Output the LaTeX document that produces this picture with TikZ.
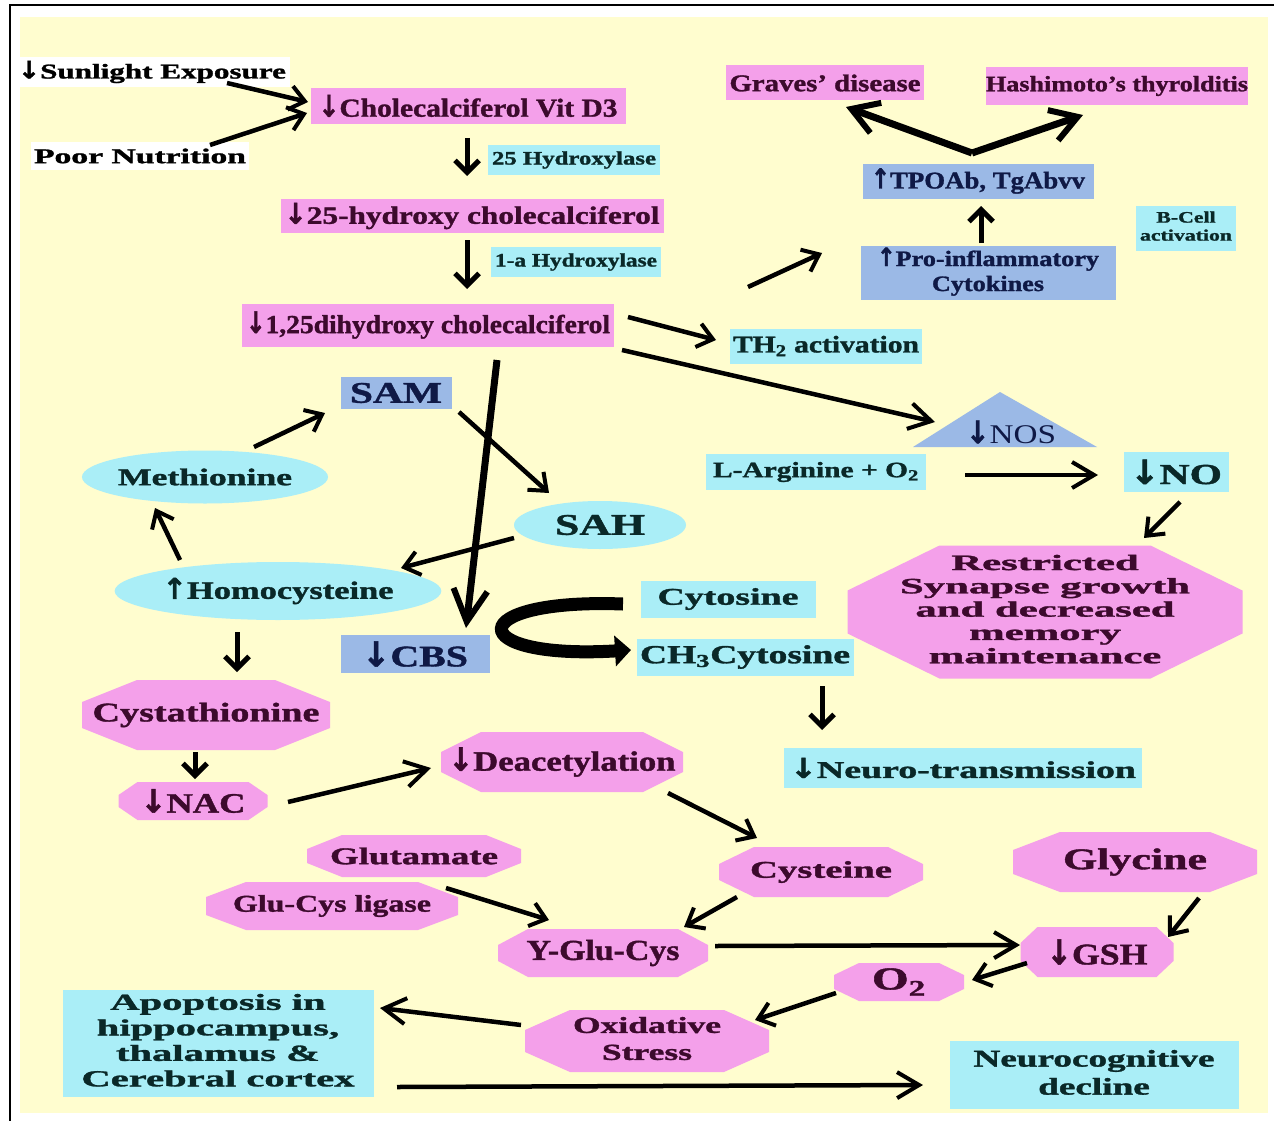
\documentclass[tikz,border=0pt]{standalone}
\usepackage{fontspec}
\usepackage{graphicx}
\setmainfont{Liberation Serif}[BoldFeatures={FakeBold=1.2}]
\newfontfamily\arrf{DejaVu Sans}[BoldFeatures={FakeBold=1.5}]
\usetikzlibrary{arrows.meta,shapes.geometric,calc}
\definecolor{bgy}{RGB}{255,253,207}
\definecolor{pinkf}{RGB}{244,160,234}
\definecolor{cyanf}{RGB}{170,238,247}
\definecolor{bluef}{RGB}{155,185,230}
\definecolor{pinkt}{RGB}{60,10,45}
\definecolor{cyant}{RGB}{10,40,40}
\definecolor{bluet}{RGB}{15,25,70}
\newcommand\dn{\scalebox{0.85}[1.15]{\arrf\bfseries ↓}}
\newcommand\up{\scalebox{0.85}[1.15]{\arrf\bfseries ↑}}
\newcommand\tx[3]{{\fontsize{#2}{#2}\selectfont\bfseries\resizebox{#1pt}{\height}{#3}}}
\newcommand\txr[3]{{\fontsize{#2}{#2}\selectfont\resizebox{#1pt}{\height}{#3}}}
\newcommand\txm[4]{{\fontsize{#2}{#3}\selectfont\bfseries\resizebox{#1pt}{\height}{\begin{tabular}{@{}c@{}}#4\end{tabular}}}}
\tikzset{
  pbox/.style={rectangle, fill=pinkf, text=pinkt, inner sep=0pt},
  cbox/.style={rectangle, fill=cyanf, text=cyant, inner sep=0pt},
  bbox/.style={rectangle, fill=bluef, text=bluet, inner sep=0pt},
  wbox/.style={rectangle, fill=white, text=black, inner sep=0pt},
  ell/.style={ellipse, fill=cyanf, text=cyant, inner sep=0pt},
  oct/.style 2 args={rectangle, inner sep=0pt, text=pinkt,
    path picture={\fill[pinkf]
      ([xshift=#1pt]path picture bounding box.north west) --
      ([xshift=-#1pt]path picture bounding box.north east) --
      ([yshift=-#2pt]path picture bounding box.north east) --
      ([yshift=#2pt]path picture bounding box.south east) --
      ([xshift=-#1pt]path picture bounding box.south east) --
      ([xshift=#1pt]path picture bounding box.south west) --
      ([yshift=#2pt]path picture bounding box.south west) --
      ([yshift=-#2pt]path picture bounding box.north west) -- cycle;}},
  arr/.style={line width=4.5pt, -{Straight Barb[length=15pt,width=24pt,line width=4pt]}},
  larr/.style={line width=4.5pt, -{Straight Barb[length=22pt,width=26pt,line width=4pt]}},
  varr/.style={line width=5pt, -{Straight Barb[length=12pt,width=24pt,line width=5pt]}},
  barr/.style={line width=7pt, -{Straight Barb[length=32pt,width=34pt,line width=6pt]}},
  vvarr/.style={line width=7pt, -{Straight Barb[length=26pt,width=32pt,line width=6pt]}},
}
\begin{document}
\begin{tikzpicture}[x=1pt,y=-1pt]
\useasboundingbox (0,0) rectangle (1274,1121);
\fill[white] (0,0) rectangle (1274,1121);
\fill[bgy] (20,17) rectangle (1268,1113);
\draw[line width=2.5pt] (1274,5) -- (10,5) -- (10,1121);

% top chain
\node[wbox, minimum width=275pt, minimum height=30pt] (sun) at (152,72) {\tx{268}{21}{\dn Sunlight Exposure}};
\node[wbox, minimum width=218pt, minimum height=28pt] (poor) at (140,156) {\tx{212}{21}{Poor Nutrition}};
\node[pbox, minimum width=315pt, minimum height=36pt] (chol) at (468,106) {\tx{299}{26}{\dn Cholecalciferol Vit D3}};
\node[cbox, minimum width=172pt, minimum height=30pt] (h25) at (574,160) {\tx{164}{19}{25 Hydroxylase}};
\node[pbox, minimum width=383pt, minimum height=34pt] (hyd25) at (472,216) {\tx{375}{25}{\dn 25-hydroxy cholecalciferol}};
\node[cbox, minimum width=170pt, minimum height=30pt] (ha1) at (576,262) {\tx{162}{19}{1-a Hydroxylase}};
\node[pbox, minimum width=372pt, minimum height=43pt] (dih) at (428,325) {\tx{364}{26}{\dn 1,25dihydroxy cholecalciferol}};

% thyroid
\node[cbox, minimum width=192pt, minimum height=35pt] (th2) at (826,346) {\tx{186}{24}{TH\textsubscript{2} activation}};
\node[pbox, minimum width=198pt, minimum height=35pt] (graves) at (825,83) {\tx{191}{24}{Graves’ disease}};
\node[pbox, minimum width=262pt, minimum height=38pt] (hashi) at (1117,86) {\tx{262}{22}{Hashimoto’s thyrolditis}};
\node[bbox, minimum width=231pt, minimum height=35pt] (tpo) at (978,181) {\tx{214}{24}{\up TPOAb, TgAbvv}};
\node[bbox, minimum width=255pt, minimum height=54pt] (proinf) at (988,273) {\txm{222}{22}{25}{\up Pro-inflammatory\\Cytokines}};
\node[cbox, minimum width=100pt, minimum height=45pt] (bcell) at (1186,228) {\txm{92}{16}{18}{B-Cell\\activation}};

% NOS
\node[text=bluet, inner sep=0pt] (nos) at (1011,432) {};
\fill[bluef] ($(nos)+(-11,-40)$) -- ($(nos)+(86,15)$) -- ($(nos)+(-98,15)$) -- cycle;
\node[text=bluet, inner sep=0pt] at (nos) {\txr{90}{27}{\dn NOS}};
\node[cbox, minimum width=220pt, minimum height=36pt] (larg) at (816,472) {\tx{206}{22}{L-Arginine + O\textsubscript{2}}};
\node[cbox, minimum width=105pt, minimum height=40pt] (no) at (1176,472) {\tx{92}{29}{\dn NO}};
\node[oct={92}{45}, minimum width=395pt, minimum height=133pt] (restr) at (1045,612) {\txm{290}{22}{23.3}{Restricted\\Synapse growth\\and decreased\\memory\\maintenance}};

% methylation cycle
\node[bbox, minimum width=111pt, minimum height=32pt] (sam) at (396,393) {\tx{92}{30}{SAM}};
\node[ell, minimum width=207pt, minimum height=53pt] (meth) at (205,477) {\tx{174}{24}{Methionine}};
\node[ell, minimum width=172pt, minimum height=48pt] (sah) at (600,525) {\tx{90}{30}{SAH}};
\node[ell, minimum width=270pt, minimum height=58pt] (homo) at (278,591) {\tx{231}{25}{\up Homocysteine}};
\node[bbox, minimum width=149pt, minimum height=38pt] (cbs) at (415,654) {\tx{106}{30}{\dn CBS}};
\node[cbox, minimum width=175pt, minimum height=37pt] (cyto) at (728,599) {\tx{141}{24}{Cytosine}};
\node[cbox, minimum width=217pt, minimum height=37pt] (ch3) at (745,657) {\tx{210}{26}{CH\textsubscript{3}Cytosine}};
\node[cbox, minimum width=358pt, minimum height=40pt] (neuro) at (963,768) {\tx{346}{24}{\dn Neuro-transmission}};

% lower pathway
\node[oct={55}{22}, minimum width=248pt, minimum height=70pt] (cyst) at (206,715) {\tx{227}{27}{Cystathionine}};
\node[oct={19}{13}, minimum width=149pt, minimum height=38pt] (nac) at (193,801) {\tx{105}{28}{\dn NAC}};
\node[oct={40}{20}, minimum width=242pt, minimum height=60pt] (deac) at (562,762) {\tx{227}{28}{\dn Deacetylation}};
\node[oct={35}{14}, minimum width=214pt, minimum height=42pt] (glut) at (414,856) {\tx{168}{24}{Glutamate}};
\node[oct={40}{15}, minimum width=252pt, minimum height=48pt] (glucys) at (332,906) {\tx{198}{24}{Glu-Cys ligase}};
\node[oct={30}{16}, minimum width=210pt, minimum height=48pt] (yglu) at (603,953) {\tx{153}{29}{Y-Glu-Cys}};
\node[oct={35}{17}, minimum width=204pt, minimum height=50pt] (cyste) at (821,872) {\tx{142}{24}{Cysteine}};
\node[oct={47}{18}, minimum width=244pt, minimum height=60pt] (glyc) at (1135,862) {\tx{144}{30}{Glycine}};
\node[oct={17}{16}, minimum width=153pt, minimum height=50pt] (gsh) at (1097,952) {\tx{101}{30}{\dn GSH}};
\node[oct={25}{12}, minimum width=130pt, minimum height=38pt] (o2) at (899,982) {\tx{54}{32}{O\textsubscript{2}}};
\node[oct={45}{20}, minimum width=244pt, minimum height=62pt] (oxid) at (647,1041) {\txm{148}{23}{27}{Oxidative\\Stress}};
\node[cbox, minimum width=311pt, minimum height=107pt] (apop) at (218,1043) {\txm{273}{23}{25.5}{Apoptosis in\\hippocampus,\\thalamus \&\\Cerebral cortex}};
\node[cbox, minimum width=289pt, minimum height=68pt] (ncog) at (1094,1075) {\txm{241}{24}{28}{Neurocognitive\\decline}};

% connectors
\draw[arr] ($(sun)+(75,11)$) -- ($(chol)+(-160,-4)$);
\draw[arr] ($(poor)+(70,-11)$) -- ($(chol)+(-161,7)$);
\draw[varr] ($(chol)+(-1,32)$) -- ($(hyd25)+(-5,-40)$);
\draw[varr] ($(hyd25)+(-5,24)$) -- ($(dih)+(39,-36)$);
\draw[arr] ($(dih)+(200,-8)$) -- ($(th2)+(-110,-6)$);
\draw[arr] ($(th2)+(-78,-59)$) -- ($(proinf)+(-166,-20)$);
\draw[varr] ($(proinf)+(-7,-30)$) -- ($(tpo)+(3,25)$);
\coordinate (v) at ($(tpo)+(-6,-28)$);
\draw[vvarr] (v) -- ($(graves)+(21,24)$);
\draw[vvarr] (v) -- ($(hashi)+(-34,29)$);
\draw[larr] ($(dih)+(194,25)$) -- ($(nos)+(-76,-10)$);
\draw[larr] ($(larg)+(149,3)$) -- ($(no)+(-78,3)$);
\draw[arr] ($(no)+(4,30)$) -- ($(restr)+(99,-74)$);
\draw[arr] ($(meth)+(49,-30)$) -- ($(sam)+(-71,20)$);
\draw[arr] ($(sam)+(63,19)$) -- ($(sah)+(-51,-32)$);
\draw[arr] ($(sah)+(-86,13)$) -- ($(homo)+(123,-23)$);
\draw[arr] ($(homo)+(-98,-31)$) -- ($(meth)+(-50,31)$);
\draw[barr] ($(dih)+(69,35)$) -- ($(cbs)+(51,-26)$);
\draw[varr] ($(homo)+(-41,41)$) -- ($(cyst)+(31,-43)$);
\draw[line width=13pt, -{Triangle[length=16pt,width=30pt]}] ($(cyto)+(-105,5)$) .. controls (462,598) and (462,660) .. ($(ch3)+(-114,-7)$);
\draw[varr] ($(ch3)+(77,29)$) -- ($(neuro)+(-141,-38)$);
\draw[varr] ($(cyst)+(-11,37)$) -- ($(nac)+(2,-22)$);
\draw[larr] ($(nac)+(95,1)$) -- ($(deac)+(-131,6)$);
\draw[arr] ($(deac)+(106,31)$) -- ($(cyste)+(-64,-34)$);
\draw[arr] ($(cyste)+(-84,25)$) -- ($(yglu)+(81,-26)$);
\draw[arr] ($(glucys)+(114,-18)$) -- ($(yglu)+(-54,-33)$);
\draw[larr] ($(yglu)+(112,-7)$) -- ($(gsh)+(-77,-7)$);
\draw[arr] ($(glyc)+(64,36)$) -- ($(gsh)+(71,-15)$);
\draw[arr] ($(gsh)+(-70,11)$) -- ($(o2)+(73,-2)$);
\draw[arr] ($(o2)+(-63,11)$) -- ($(oxid)+(108,-21)$);
\draw[larr] ($(oxid)+(-126,-16)$) -- ($(apop)+(162,-35)$);
\draw[larr] ($(apop)+(179,44)$) -- ($(ncog)+(-171,10)$);
\end{tikzpicture}
\end{document}
